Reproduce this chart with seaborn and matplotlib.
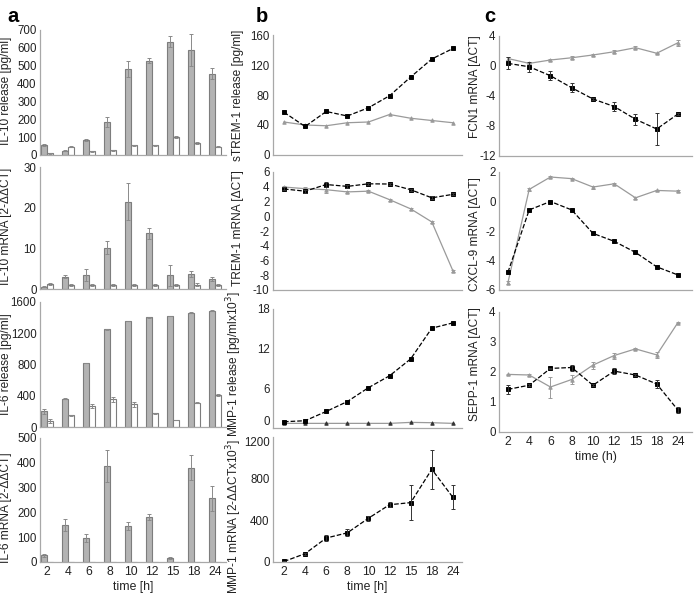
import numpy as np
import pandas as pd
import matplotlib
matplotlib.use("Agg")
import matplotlib.pyplot as plt
import seaborn as sns

# ---- data ----
times = ["2", "4", "6", "8", "10", "12", "15", "18", "24"]

# column a: bars (gray = stimulated, white = control)
il10_rel_gray = [55, 25, 85, 185, 483, 528, 635, 588, 455]
il10_rel_gray_err = [4, 3, 5, 28, 45, 15, 30, 90, 30]
il10_rel_white = [9, 45, 20, 26, 55, 54, 102, 65, 45]
il10_rel_white_err = [3, 3, 3, 3, 3, 3, 5, 6, 3]

il10_mrna_gray = [0.6, 3.0, 3.4, 10.2, 21.5, 13.7, 3.4, 3.7, 2.5]
il10_mrna_gray_err = [0.2, 0.4, 1.5, 1.7, 4.6, 1.4, 2.6, 0.7, 0.5]
il10_mrna_white = [1.2, 1.0, 1.0, 1.0, 1.0, 1.0, 1.0, 1.1, 1.0]
il10_mrna_white_err = [0.2, 0.2, 0.2, 0.2, 0.2, 0.2, 0.2, 0.3, 0.2]

il6_rel_gray = [200, 360, 820, 1250, 1357, 1404, 1421, 1463, 1488]
il6_rel_gray_err = [30, 5, 5, 5, 5, 5, 5, 5, 5]
il6_rel_white = [80, 150, 270, 355, 290, 175, 90, 310, 410]
il6_rel_white_err = [25, 5, 30, 35, 35, 5, 5, 5, 10]

il6_mrna_gray = [27, 151, 97, 388, 145, 181, 16, 381, 257]
il6_mrna_gray_err = [5, 24, 15, 65, 15, 11, 4, 51, 51]
il6_mrna_white = [1, 1, 1, 1, 1, 1, 1, 1, 1]
il6_mrna_white_err = [0, 0, 0, 0, 0, 0, 0, 0, 0]

# column b: lines (black = stimulated, gray = control)
strem_rel_black = [57, 38, 58, 52, 63, 79, 104, 128, 142]
strem_rel_gray = [44, 40, 39, 43, 44, 54, 49, 46, 43]

trem_mrna_black = [3.7, 3.4, 4.3, 4.05, 4.4, 4.37, 3.6, 2.5, 2.97]
trem_mrna_black_err = [0.2, 0.2, 0.3, 0.2, 0.15, 0.15, 0.15, 0.2, 0.15]
trem_mrna_gray = [3.96, 3.74, 3.6, 3.3, 3.4, 2.25, 1.0, -0.77, -7.4]
trem_mrna_gray_err = [0.2, 0.2, 0.5, 0.15, 0.1, 0.15, 0.1, 0.1, 0.1]

mmp_rel_black = [0.95, 1.1, 2.5, 4.0, 6.1, 7.9, 10.45, 15.1, 15.9]
mmp_rel_gray = [0.7, 0.7, 0.7, 0.7, 0.7, 0.7, 0.85, 0.8, 0.7]

mmp_mrna_black = [5, 80, 230, 280, 420, 550, 570, 890, 620]
mmp_mrna_black_err = [5, 10, 30, 35, 25, 25, 165, 185, 115]

# column c
fcn1_black = [0.35, -0.1, -1.3, -2.9, -4.4, -5.4, -7.1, -8.4, -6.4]
fcn1_black_err = [0.8, 0.7, 0.6, 0.6, 0.1, 0.6, 0.7, 2.1, 0.1]
fcn1_gray = [1.0, 0.35, 0.8, 1.1, 1.47, 1.9, 2.44, 1.7, 3.1]
fcn1_gray_err = [0.2, 0.1, 0.1, 0.2, 0.1, 0.2, 0.2, 0.1, 0.4]

cxcl9_black = [-4.8, -0.57, 0.0, -0.57, -2.16, -2.7, -3.45, -4.43, -4.98]
cxcl9_gray = [-5.5, 0.82, 1.66, 1.55, 0.98, 1.2, 0.25, 0.75, 0.7]
cxcl9_gray_err = [0.1, 0.1, 0.1, 0.05, 0.1, 0.05, 0.05, 0.05, 0.05]

sepp1_black = [1.42, 1.56, 2.12, 2.15, 1.56, 2.03, 1.9, 1.6, 0.73]
sepp1_black_err = [0.15, 0.03, 0.03, 0.1, 0.03, 0.1, 0.03, 0.12, 0.1]
sepp1_gray = [1.92, 1.9, 1.5, 1.75, 2.23, 2.55, 2.77, 2.57, 3.65]
sepp1_gray_err = [0.02, 0.02, 0.35, 0.15, 0.12, 0.1, 0.03, 0.1, 0.03]

# ---- style ----
sns.set_theme(style="white")
plt.rcParams["font.family"] = ["Liberation Sans", "DejaVu Sans"]
plt.rcParams["axes.unicode_minus"] = False
SPINE = "#a8a8a8"
GRAY_BAR = "#b3b3b3"
GRAY_LINE = "#9a9a9a"
TXT = "#222222"

fig = plt.figure(figsize=(6.95, 5.96), dpi=100)


def add_ax(x0, x1, y0, y1):
    return fig.add_axes([x0 / 695, 1 - y1 / 596, (x1 - x0) / 695, (y1 - y0) / 596])


def style(ax, ylim, yticks, ylabel, xlim, labx, laby=0.5, bottom=False):
    ax.set_ylim(*ylim)
    ax.set_yticks(yticks)
    ax.set_xlim(*xlim)
    sns.despine(ax=ax)
    for s in ["left", "bottom"]:
        ax.spines[s].set_color(SPINE)
        ax.spines[s].set_linewidth(0.9)
    ax.tick_params(axis="y", length=1.5, width=0.6, color=SPINE, labelsize=8.3, pad=1, labelcolor=TXT)
    ax.tick_params(axis="x", length=0, labelsize=8.8, pad=3, labelcolor=TXT)
    ax.set_ylabel(ylabel, fontsize=8.6, color=TXT)
    ax.yaxis.set_label_coords(labx, laby)
    ax.set_xlabel("")
    if not bottom:
        ax.tick_params(axis="x", labelbottom=False)


def bar_panel(ax, gray, gray_err, white, white_err):
    df = pd.DataFrame({"time": times * 2, "value": gray + white,
                       "group": ["stim"] * 9 + ["ctrl"] * 9})
    sns.barplot(data=df, x="time", y="value", hue="group", order=times,
                hue_order=["stim", "ctrl"], palette=[GRAY_BAR, "white"],
                width=0.55, gap=0.05, edgecolor="#7d7d7d", linewidth=0.8,
                errorbar=None, legend=False, ax=ax)
    for p, e in zip(ax.patches, gray_err + white_err):
        if e > 0:
            ax.errorbar(p.get_x() + p.get_width() / 2, p.get_height(), yerr=e,
                        fmt="none", ecolor="#8a8a8a", elinewidth=0.7, capsize=1.5, capthick=0.7)


def line_panel(ax, black, black_err, gray, gray_err, gray_marker_color=GRAY_LINE):
    if gray is not None:
        dfg = pd.DataFrame({"time": times, "value": gray})
        sns.pointplot(data=dfg, x="time", y="value", order=times, color=GRAY_LINE,
                      markers="^", linestyles="-", markersize=2.5, linewidth=0.9,
                      errorbar=None, ax=ax)
        ax.lines[-1].set_markerfacecolor(gray_marker_color)
        ax.lines[-1].set_markeredgecolor(gray_marker_color)
        if gray_err is not None:
            ax.errorbar(range(len(times)), gray, yerr=gray_err, fmt="none",
                        ecolor=GRAY_LINE, elinewidth=0.7, capsize=1.5, capthick=0.7)
    dfb = pd.DataFrame({"time": times, "value": black})
    sns.pointplot(data=dfb, x="time", y="value", order=times, color="black",
                  markers="s", linestyles="--", markersize=3.2, linewidth=0.9,
                  errorbar=None, ax=ax)
    if black_err is not None:
        ax.errorbar(range(len(times)), black, yerr=black_err, fmt="none",
                    ecolor="#333333", elinewidth=0.7, capsize=1.5, capthick=0.7)


# ---- column a ----
xa = (-0.33, 8.52)
la = -0.148
ax = add_ax(40, 226, 30, 155)
bar_panel(ax, il10_rel_gray, il10_rel_gray_err, il10_rel_white, il10_rel_white_err)
style(ax, (0, 700), range(0, 701, 100), "IL-10 release [pg/ml]", xa, la, 0.51)

ax = add_ax(40, 226, 167, 289)
bar_panel(ax, il10_mrna_gray, il10_mrna_gray_err, il10_mrna_white, il10_mrna_white_err)
style(ax, (0, 30), [0, 10, 20, 30], "IL-10 mRNA [2-ΔΔCT]", xa, la, 0.51)

ax = add_ax(40, 226, 302, 427)
bar_panel(ax, il6_rel_gray, il6_rel_gray_err, il6_rel_white, il6_rel_white_err)
style(ax, (0, 1600), [0, 400, 800, 1200, 1600], "IL-6 release [pg/ml]", xa, la)

ax = add_ax(40, 226, 438, 562)
bar_panel(ax, il6_mrna_gray, il6_mrna_gray_err, il6_mrna_white, il6_mrna_white_err)
style(ax, (0, 500), range(0, 501, 100), "IL-6 mRNA [2-ΔΔCT]", xa, la, 0.44, bottom=True)
ax.set_xlabel("time [h]", fontsize=8.8, labelpad=2, color=TXT)

# ---- column b ----
xb = (-0.52, 8.43)
lb = -0.153
ax = add_ax(273, 462, 35, 155)
line_panel(ax, strem_rel_black, None, strem_rel_gray, None)
style(ax, (0, 160), [0, 40, 80, 120, 160], "sTREM-1 release [pg/ml]", xb, lb, 0.5)

ax = add_ax(273, 462, 172, 290)
line_panel(ax, trem_mrna_black, trem_mrna_black_err, trem_mrna_gray, trem_mrna_gray_err)
style(ax, (-10, 6), range(-10, 7, 2), "TREM-1 mRNA [ΔCT]", xb, lb, 0.525)

ax = add_ax(273, 462, 309, 428)
line_panel(ax, mmp_rel_black, None, mmp_rel_gray, None, gray_marker_color="#333333")
style(ax, (0, 18), [0, 6, 12, 18], "MMP-1 release [pg/mlx10$^3$]", xb, lb, 0.54)
ax.get_yticklabels()[0].set_verticalalignment("bottom")

ax = add_ax(273, 462, 437, 562)
line_panel(ax, mmp_mrna_black, mmp_mrna_black_err, None, None)
style(ax, (0, 1200), [0, 400, 800, 1200], "MMP-1 mRNA [2-ΔΔCTx10$^3$]", xb, lb, 0.36, bottom=True)
ax.get_yticklabels()[-1].set_verticalalignment("top")
ax.set_xlabel("time [h]", fontsize=8.8, labelpad=2, color=TXT)

# ---- column c ----
xc = (-0.42, 8.66)
lc = -0.095
ax = add_ax(499, 692, 36, 156)
line_panel(ax, fcn1_black, fcn1_black_err, fcn1_gray, fcn1_gray_err)
style(ax, (-12, 4), [-12, -8, -4, 0, 4], "FCN1 mRNA [ΔCT]", xc, lc, 0.575)

ax = add_ax(499, 692, 172, 290)
line_panel(ax, cxcl9_black, None, cxcl9_gray, cxcl9_gray_err)
style(ax, (-6, 2), [-6, -4, -2, 0, 2], "CXCL-9 mRNA [ΔCT]", xc, lc, 0.47)

ax = add_ax(499, 692, 312, 432)
line_panel(ax, sepp1_black, sepp1_black_err, sepp1_gray, sepp1_gray_err)
style(ax, (0, 4), [0, 1, 2, 3, 4], "SEPP-1 mRNA [ΔCT]", xc, lc, 0.57, bottom=True)
ax.set_xlabel("time (h)", fontsize=8.8, labelpad=2, color=TXT)

# panel letters
for x, letter in [(7, "a"), (256, "b"), (484, "c")]:
    fig.text(x / 695, 1 - 22 / 596, letter, fontsize=14.5, fontweight="bold", color="black")

fig.savefig("out.png", dpi=100)
